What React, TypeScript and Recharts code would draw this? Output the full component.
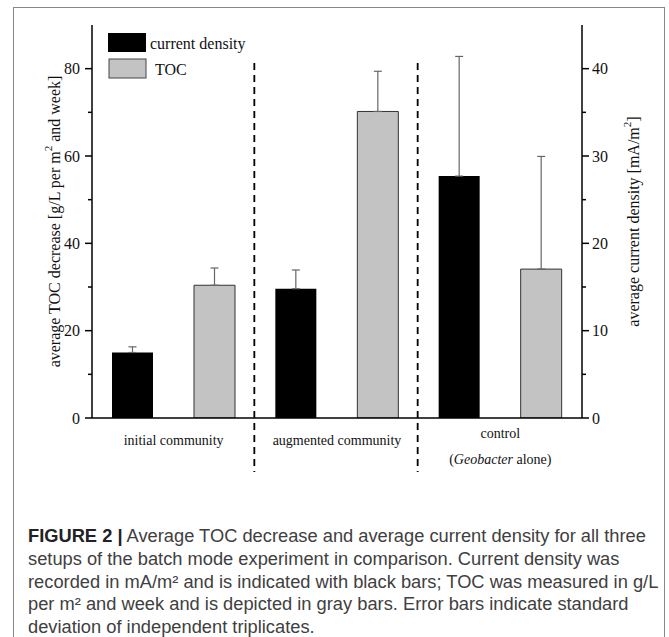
import React from 'react';
import { BarChart, Bar, XAxis, YAxis, ErrorBar, ReferenceLine, Legend } from 'recharts';

// ---------- data ----------
const categories = ['initial community', 'augmented community', 'control'];
const categorySubLabels = ['', '', '(Geobacter alone)'];
const currentDensity = [7.5, 14.8, 27.7]; // mA/m2 (right axis)
const currentDensityErr = [0.65, 2.15, 13.7];
const tocDecrease = [30.4, 70.2, 34.1]; // g/L per m2 and week (left axis)
const tocErr = [3.95, 9.2, 25.8];
const leftTicks = [0, 10, 20, 30, 40, 50, 60, 70, 80];
const rightTicks = [0, 5, 10, 15, 20, 25, 30, 35, 40];
const leftMajorStep = 20;
const rightMajorStep = 10;
const leftDomain = [0, 90];
const rightDomain = [0, 45];
const legendLabels = ['current density', 'TOC'];
const captionHead = 'FIGURE 2 |';
const captionLines = [
  ' Average TOC decrease and average current density for all three',
  'setups of the batch mode experiment in comparison. Current density was',
  'recorded in mA/m\u00b2 and is indicated with black bars; TOC was measured in g/L',
  'per m\u00b2 and week and is depicted in gray bars. Error bars indicate standard',
  'deviation of independent triplicates.',
];

const data = categories.map((name, i) => ({
  name,
  cd: currentDensity[i],
  cdErr: [0, currentDensityErr[i]],
  toc: tocDecrease[i],
  tocErr: [0, tocErr[i]],
}));

// ---------- styles ----------
const SERIF = '"Liberation Serif", "Times New Roman", serif';
const SANS = '"Liberation Sans", Arial, sans-serif';
const GRAY = '#c3c3c3';
const TICK_SIZE = 7;
const TICK_MARGIN = 2;
const serifStyle = { fontFamily: SERIF };

const makeYTick = (side: 'left' | 'right', majorStep: number) => (props: any) => {
  const { x, y, payload } = props;
  const v = payload.value;
  const isMajor = v % majorStep === 0;
  const axisX = side === 'left' ? x + TICK_SIZE + TICK_MARGIN : x - TICK_SIZE - TICK_MARGIN;
  const len = isMajor ? 7 : 4;
  const x2 = side === 'left' ? axisX - len : axisX + len;
  return (
    <g>
      <line x1={axisX} x2={x2} y1={y} y2={y} stroke="#000" strokeWidth={1.5} />
      {isMajor && (
        <text
          x={side === 'left' ? axisX - 12 : axisX + 10}
          y={y}
          dy="0.35em"
          textAnchor={side === 'left' ? 'end' : 'start'}
          style={serifStyle}
          fontFamily={SERIF}
          fontSize={16}
          fill="#111"
        >
          {v}
        </text>
      )}
    </g>
  );
};

const XTick = (props: any) => {
  const { x, y, payload } = props;
  const idx = categories.indexOf(payload.value);
  const sub = categorySubLabels[idx];
  if (!sub) {
    return (
      <text x={x} y={y + 22} dy="0.35em" textAnchor="middle" style={serifStyle} fontSize={14} fill="#111">
        {payload.value}
      </text>
    );
  }
  const m = sub.match(/^\((\S+)(.*)\)$/);
  return (
    <g>
      <text x={x} y={y + 15} dy="0.35em" textAnchor="middle" style={serifStyle} fontSize={14} fill="#111">
        {payload.value}
      </text>
      <text x={x} y={y + 41} dy="0.35em" textAnchor="middle" style={serifStyle} fontSize={14} fill="#111">
        (<tspan fontStyle="italic">{m ? m[1] : sub}</tspan>
        {m ? m[2] : ''})
      </text>
    </g>
  );
};

const LeftTitle = (props: any) => {
  const vb = props.viewBox || { x: 0, y: 25, width: 92, height: 393 };
  const cx = vb.x + 54;
  const cy = vb.y + vb.height / 2;
  return (
    <text
      x={cx}
      y={cy}
      transform={`rotate(-90 ${cx} ${cy})`}
      textAnchor="middle"
      dominantBaseline="central"
      style={serifStyle}
      fontSize={16}
      fill="#111"
    >
      average TOC decrease [g/L per m<tspan dy={-6} fontSize={11}>2</tspan>
      <tspan dy={6}> and week]</tspan>
    </text>
  );
};

const RightTitle = (props: any) => {
  const vb = props.viewBox || { x: 582, y: 25, width: 87, height: 393 };
  const cx = vb.x + 51;
  const cy = vb.y + vb.height / 2;
  return (
    <text
      x={cx}
      y={cy}
      transform={`rotate(-90 ${cx} ${cy})`}
      textAnchor="middle"
      dominantBaseline="central"
      style={serifStyle}
      fontSize={16}
      fill="#111"
    >
      average current density [mA/m<tspan dy={-6} fontSize={11}>2</tspan>
      <tspan dy={6}>]</tspan>
    </text>
  );
};

const LegendContent = () => (
  <svg width={170} height={50}>
    <rect x={2} y={2} width={38} height={19} fill="#000" />
    <text x={44} y={12} dy="0.35em" style={serifStyle} fontSize={16} fill="#111">
      {legendLabels[0]}
    </text>
    <rect x={3} y={28} width={37} height={19} fill={GRAY} stroke="#444" strokeWidth={1} />
    <text x={49} y={38} dy="0.35em" style={serifStyle} fontSize={16} fill="#111">
      {legendLabels[1]}
    </text>
  </svg>
);

const DashedDivider = (p: any) => {
  const top = Math.min(p.y1, p.y2);
  const bottom = Math.max(p.y1, p.y2);
  return (
    <line
      x1={p.x1 - 1}
      x2={p.x1 - 1}
      y1={top + 38}
      y2={bottom + 54}
      stroke="#000"
      strokeWidth={1.8}
      strokeDasharray="7 5"
    />
  );
};

export default function App() {
  return (
    <div style={{ position: 'absolute', left: 0, top: 0, width: 669, height: 637, overflow: 'hidden', background: '#fff' }}>
      <div
        style={{
          position: 'absolute',
          left: 13,
          top: 7,
          width: 652,
          height: 660,
          border: '1.5px solid #888',
          boxSizing: 'border-box',
        }}
      />
      <div style={{ position: 'absolute', left: 0, top: 0, fontFamily: SERIF }}>
        <BarChart
          width={669}
          height={480}
          data={data}
          margin={{ top: 25, right: 0, bottom: 0, left: 0 }}
          barGap={41}
          style={serifStyle}
        >
          <XAxis
            dataKey="name"
            xAxisId={0}
            axisLine={{ stroke: '#000', strokeWidth: 1.5 }}
            tickLine={false}
            tickSize={0}
            tickMargin={0}
            height={62}
            interval={0}
            tick={<XTick />}
          />
          <YAxis
            yAxisId="left"
            orientation="left"
            width={92}
            domain={leftDomain}
            ticks={leftTicks}
            interval={0}
            allowDataOverflow
            axisLine={{ stroke: '#000', strokeWidth: 1.5 }}
            tickLine={false}
            tickSize={TICK_SIZE}
            tickMargin={TICK_MARGIN}
            tick={makeYTick('left', leftMajorStep)}
            label={(p: any) => <LeftTitle {...p} />}
          />
          <YAxis
            yAxisId="right"
            orientation="right"
            width={87}
            domain={rightDomain}
            ticks={rightTicks}
            interval={0}
            allowDataOverflow
            axisLine={{ stroke: '#000', strokeWidth: 1.5 }}
            tickLine={false}
            tickSize={TICK_SIZE}
            tickMargin={TICK_MARGIN}
            tick={makeYTick('right', rightMajorStep)}
            label={(p: any) => <RightTitle {...p} />}
          />
          {categories.slice(1).map((c) => (
            <ReferenceLine
              key={c}
              x={c}
              yAxisId="left"
              position="start"
              ifOverflow="visible"
              shape={(p: any) => <DashedDivider {...p} />}
            />
          ))}
          <Bar dataKey="cd" name={legendLabels[0]} yAxisId="right" fill="#000" barSize={41} isAnimationActive={false}>
            <ErrorBar dataKey="cdErr" width={4} stroke="#666" strokeWidth={1.2} direction="y" />
          </Bar>
          <Bar
            dataKey="toc"
            name={legendLabels[1]}
            yAxisId="left"
            fill={GRAY}
            stroke="#333"
            strokeWidth={1}
            barSize={41}
            isAnimationActive={false}
          >
            <ErrorBar dataKey="tocErr" width={4} stroke="#666" strokeWidth={1.2} direction="y" />
          </Bar>
          <Legend
            layout="horizontal"
            verticalAlign="middle"
            align="center"
            wrapperStyle={{ position: 'absolute', top: 31, left: 106, width: 170, height: 50 }}
            content={() => <LegendContent />}
          />
        </BarChart>
      </div>
      <div
        style={{
          position: 'absolute',
          left: 28,
          top: 525,
          fontFamily: SANS,
          fontSize: 18.3,
          lineHeight: '22.8px',
          color: '#404040',
          whiteSpace: 'nowrap',
        }}
      >
        {captionLines.map((line, i) => (
          <div key={i}>
            {i === 0 && <b style={{ color: '#222' }}>{captionHead}</b>}
            {line}
          </div>
        ))}
      </div>
    </div>
  );
}
